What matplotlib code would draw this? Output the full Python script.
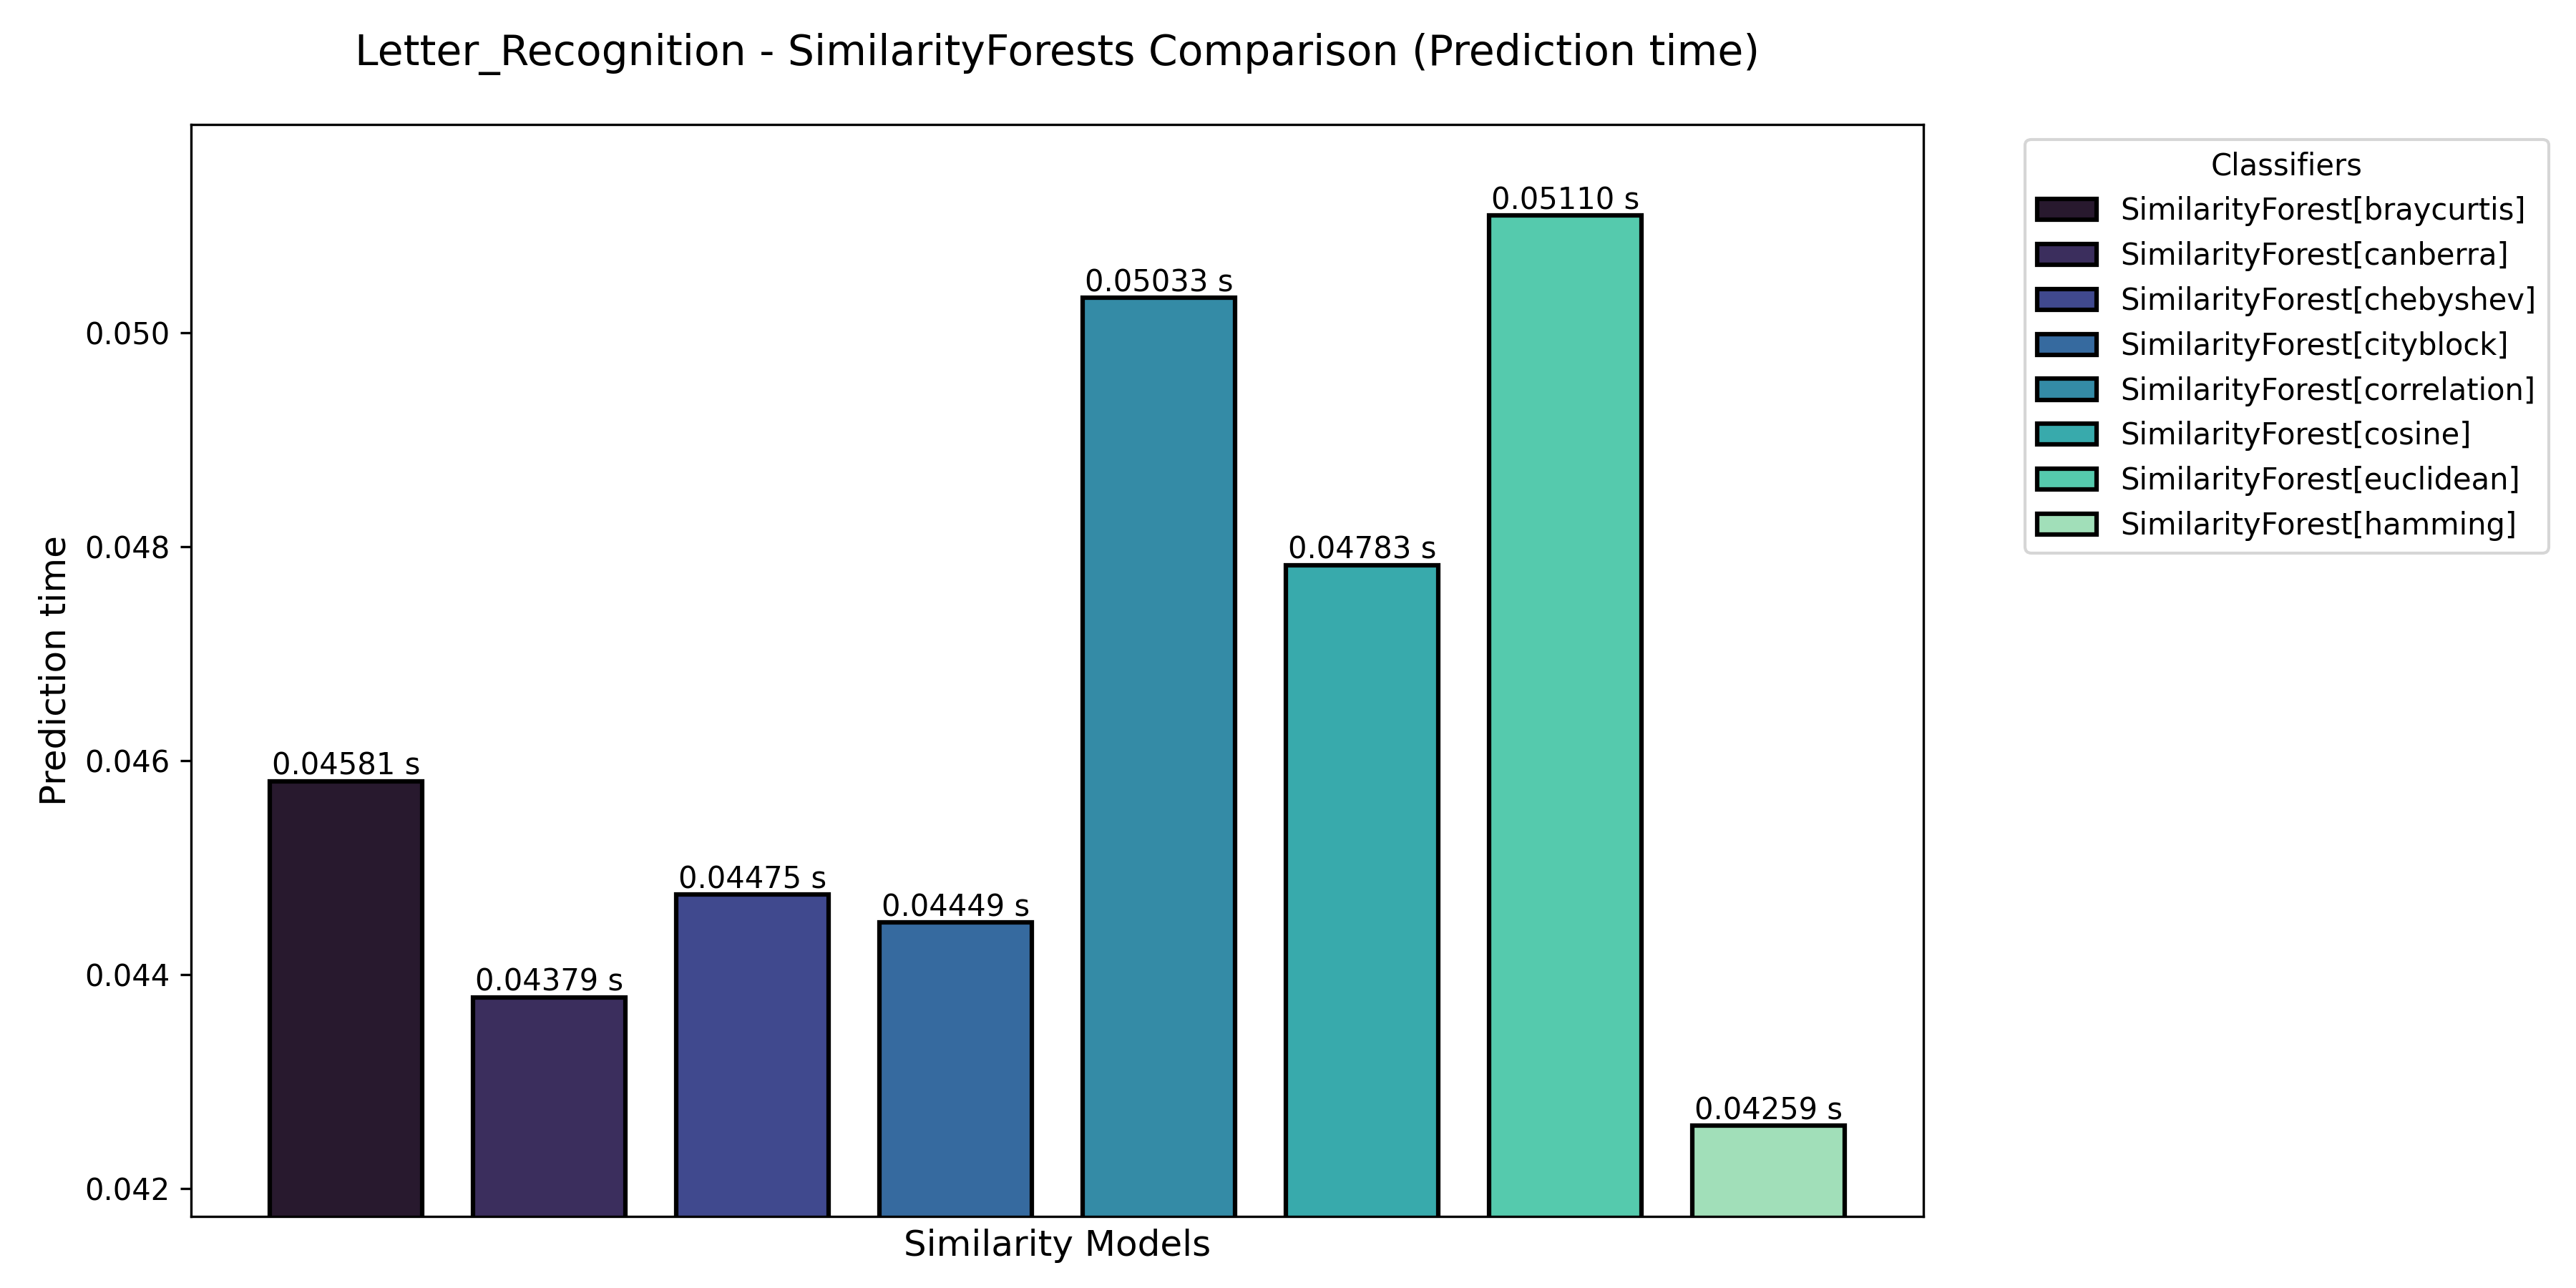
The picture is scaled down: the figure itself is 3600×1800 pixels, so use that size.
import matplotlib
matplotlib.use("Agg")
import matplotlib.pyplot as plt
import seaborn as sns
import numpy as np

classifiers = [
    "SimilarityForest[braycurtis]",
    "SimilarityForest[canberra]",
    "SimilarityForest[chebyshev]",
    "SimilarityForest[cityblock]",
    "SimilarityForest[correlation]",
    "SimilarityForest[cosine]",
    "SimilarityForest[euclidean]",
    "SimilarityForest[hamming]",
]
pred_times = [0.04581, 0.04379, 0.04475, 0.04449, 0.05033, 0.04783, 0.05110, 0.04259]

colors = sns.color_palette("mako", len(classifiers))

fig, ax = plt.subplots(figsize=(12, 6), dpi=300)
fig.subplots_adjust(left=0.0741, right=0.7468, top=0.9034, bottom=0.0554)

x = np.arange(len(classifiers))
bars = ax.bar(x, pred_times, width=0.75, color=colors, edgecolor="black",
              linewidth=1.5, label=classifiers)
for xi, v in zip(x, pred_times):
    ax.text(xi, v, f"{v:.5f} s", ha="center", va="bottom", fontsize=10)

rng = max(pred_times) - min(pred_times)
ax.set_ylim(min(pred_times) - 0.1 * rng, max(pred_times) + 0.1 * rng)
ax.set_xticks([])
ax.set_xlabel("Similarity Models", fontsize=12)
ax.set_ylabel("Prediction time", fontsize=12)
ax.set_title("Letter_Recognition - SimilarityForests Comparison (Prediction time)",
             fontsize=14, pad=20)
ax.legend(bars, classifiers, title="Classifiers", bbox_to_anchor=(1.05, 1),
          loc="upper left", fontsize=10, title_fontsize=10)

fig.savefig("out.png", dpi=300)
